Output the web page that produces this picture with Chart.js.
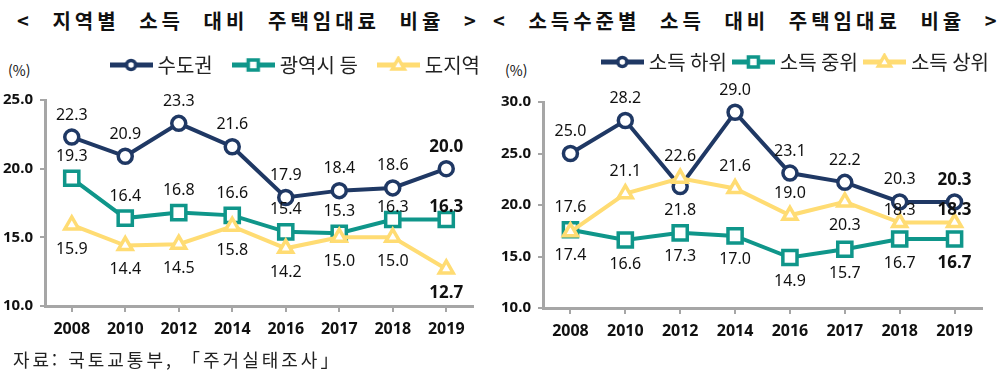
<!DOCTYPE html>
<html lang="ko">
<head>
<meta charset="utf-8">
<script src="https://cdn.jsdelivr.net/npm/chart.js@4.4.1/dist/chart.umd.min.js"></script>
<style>
  body { margin: 0; width: 999px; height: 375px; background: #fff; position: relative; overflow: hidden;
         font-family: "Noto Sans CJK KR", "Noto Sans", sans-serif; color: #111; }
  .title { position: absolute; top: 6px; font-size: 20px; font-weight: bold; letter-spacing: 4px; word-spacing: 10px; white-space: nowrap; }
  .unit { position: absolute; top: 60px; font-size: 14px; }
  canvas { position: absolute; top: 30px; }
  .source { position: absolute; left: 13px; top: 346px; font-size: 18px; letter-spacing: 3px; white-space: nowrap; color: #222; }
</style>
</head>
<body>
<div class="title" style="left:17px">&lt; 지역별 소득 대비 주택임대료 비율 &gt;</div>
<div class="title" style="left:493px">&lt; 소득수준별 소득 대비 주택임대료 비율 &gt;</div>
<div class="unit" style="left:8px">(%)</div>
<div class="unit" style="left:505px">(%)</div>
<canvas id="regionChart" width="504" height="322" style="left:0"></canvas>
<canvas id="incomeChart" width="502" height="322" style="left:497px"></canvas>
<div class="source">자료: 국토교통부, 「주거실태조사」</div>

<script>
// data
const years = ['2008', '2010', '2012', '2014', '2016', '2017', '2018', '2019'];

const capitalArea = [22.3, 20.9, 23.3, 21.6, 17.9, 18.4, 18.6, 20.0];
const metroCities = [19.3, 16.4, 16.8, 16.6, 15.4, 15.3, 16.3, 16.3];
const provinces = [15.9, 14.4, 14.5, 15.8, 14.2, 15.0, 15.0, 12.7];

const lowIncome = [25.0, 28.2, 21.8, 29.0, 23.1, 22.2, 20.3, 20.3];
const midIncome = [17.6, 16.6, 17.3, 17.0, 14.9, 15.7, 16.7, 16.7];
const highIncome = [17.4, 21.1, 22.6, 21.6, 19.0, 20.3, 18.3, 18.3];

const regionTicks = [10, 15, 20, 25];
const incomeTicks = [10, 15, 20, 25, 30];

const NAVY = '#1F3864';
const TEAL = '#0F968A';
const YELLOW = '#FFDC73';
const AXIS = '#A6A6A6';

// label offset from the point: u = above, d = below, n = just above
const LABEL_SHIFT = { u: -22, d: 24, n: -12 };

// legend icon: line with marker in the middle
function legendIcon(color, style) {
    const c = document.createElement('canvas');
    c.width = 43; c.height = 18;
    const g = c.getContext('2d');
    g.strokeStyle = color;
    g.lineWidth = 5;
    g.beginPath(); g.moveTo(0, 9); g.lineTo(43, 9); g.stroke();
    g.fillStyle = '#fff';
    g.lineWidth = 3.5;
    g.beginPath();
    if (style === 'circle') g.arc(21.5, 9, 4.5, 0, Math.PI * 2);
    else if (style === 'rect') g.rect(16.5, 4, 10, 10);
    else { g.moveTo(21.5, 2.5); g.lineTo(27.5, 13); g.lineTo(15.5, 13); g.closePath(); }
    g.fill(); g.stroke();
    return c;
}

// value labels above / below each point, last one bold
const pointLabels = {
    id: 'pointLabels',
    afterDatasetsDraw(chart) {
        const ctx = chart.ctx;
        chart.data.datasets.forEach((ds, i) => {
            const meta = chart.getDatasetMeta(i);
            meta.data.forEach((pt, j) => {
                const last = j === ds.data.length - 1;
                ctx.save();
                ctx.font = (last ? 'bold 17px' : '16px') + ' "Noto Sans", sans-serif';
                ctx.fillStyle = '#111';
                ctx.textAlign = 'center';
                ctx.textBaseline = 'middle';
                ctx.fillText(ds.data[j].toFixed(1), pt.x, pt.y + LABEL_SHIFT[ds.labelSide[j]]);
                ctx.restore();
            });
        });
    }
};

function series(label, data, color, style, radius, order, sides) {
    return {
        label: label,
        data: data,
        borderColor: color,
        backgroundColor: color,
        borderWidth: 4,
        pointStyle: style,
        pointRadius: radius,
        pointHoverRadius: radius,
        pointBorderWidth: 3.5,
        pointBackgroundColor: '#fff',
        pointBorderColor: color,
        order: order,
        clip: false,
        labelSide: sides,
        legendIcon: legendIcon(color, style)
    };
}

function makeChart(id, datasets, ticks, opts) {
    return new Chart(document.getElementById(id), {
        type: 'line',
        data: { labels: years, datasets: datasets },
        plugins: [pointLabels],
        options: {
            responsive: false,
            animation: false,
            layout: { padding: { top: opts.padTop, right: 0, bottom: opts.padBottom, left: 0 } },
            scales: {
                x: {
                    offset: true,
                    grid: { drawOnChartArea: false, color: AXIS, lineWidth: 2, tickLength: 6 },
                    border: { color: AXIS, width: 3 },
                    ticks: { color: '#111', padding: 8, font: { family: 'Noto Sans', size: 16, weight: 'bold' } },
                    afterFit: scale => { scale.height = 44; scale.paddingRight = opts.right; }
                },
                y: {
                    min: ticks[0],
                    max: ticks[ticks.length - 1],
                    afterBuildTicks: scale => { scale.ticks = ticks.map(v => ({ value: v })); },
                    grid: { drawOnChartArea: false, color: AXIS, lineWidth: 2, tickLength: 5 },
                    border: { color: AXIS, width: 3 },
                    ticks: {
                        color: '#111', padding: 7,
                        font: { family: 'Noto Sans', size: 15, weight: 'bold' },
                        callback: v => v.toFixed(1)
                    },
                    afterFit: scale => { scale.width = opts.axisWidth; }
                }
            },
            plugins: {
                tooltip: { enabled: false },
                // empty subtitle just keeps a gap between the legend and the plot
                subtitle: {
                    display: true, text: '', weight: 500,
                    font: { size: 1, lineHeight: 1 },
                    padding: { top: 0, bottom: opts.legendSpace - 1 }
                },
                legend: {
                    position: 'top',
                    align: 'end',
                    labels: {
                        usePointStyle: true,
                        pointStyleWidth: 33,
                        padding: opts.legendGap,
                        color: '#222',
                        font: { family: '"Noto Sans CJK KR"', size: 20 },
                        sort: (a, b) => a.datasetIndex - b.datasetIndex,
                        generateLabels: chart => {
                            const items = Chart.defaults.plugins.legend.labels.generateLabels(chart);
                            items.forEach(it => { it.pointStyle = chart.data.datasets[it.datasetIndex].legendIcon; });
                            return items;
                        }
                    }
                }
            }
        }
    });
}

makeChart('regionChart', [
    series('수도권', capitalArea, NAVY, 'circle', 7, 2, ['u', 'u', 'u', 'u', 'u', 'u', 'u', 'u']),
    series('광역시 등', metroCities, TEAL, 'rect', 10, 1, ['u', 'u', 'u', 'u', 'u', 'u', 'n', 'n']),
    series('도지역', provinces, YELLOW, 'triangle', 8, 0, ['d', 'd', 'd', 'd', 'd', 'd', 'd', 'd'])
], regionTicks, { padTop: 1, padBottom: 2, right: 31, axisWidth: 45, legendGap: 24, legendSpace: 15 });

makeChart('incomeChart', [
    series('소득 하위', lowIncome, NAVY, 'circle', 7, 2, ['u', 'u', 'd', 'u', 'u', 'u', 'u', 'u']),
    series('소득 중위', midIncome, TEAL, 'rect', 10, 1, ['u', 'd', 'd', 'd', 'd', 'd', 'd', 'd']),
    series('소득 상위', highIncome, YELLOW, 'triangle', 8, 0, ['d', 'u', 'u', 'u', 'u', 'd', 'n', 'n'])
], incomeTicks, { padTop: 12, padBottom: 0, right: 17, axisWidth: 46, legendGap: 10, legendSpace: 20 });
</script>
</body>
</html>
